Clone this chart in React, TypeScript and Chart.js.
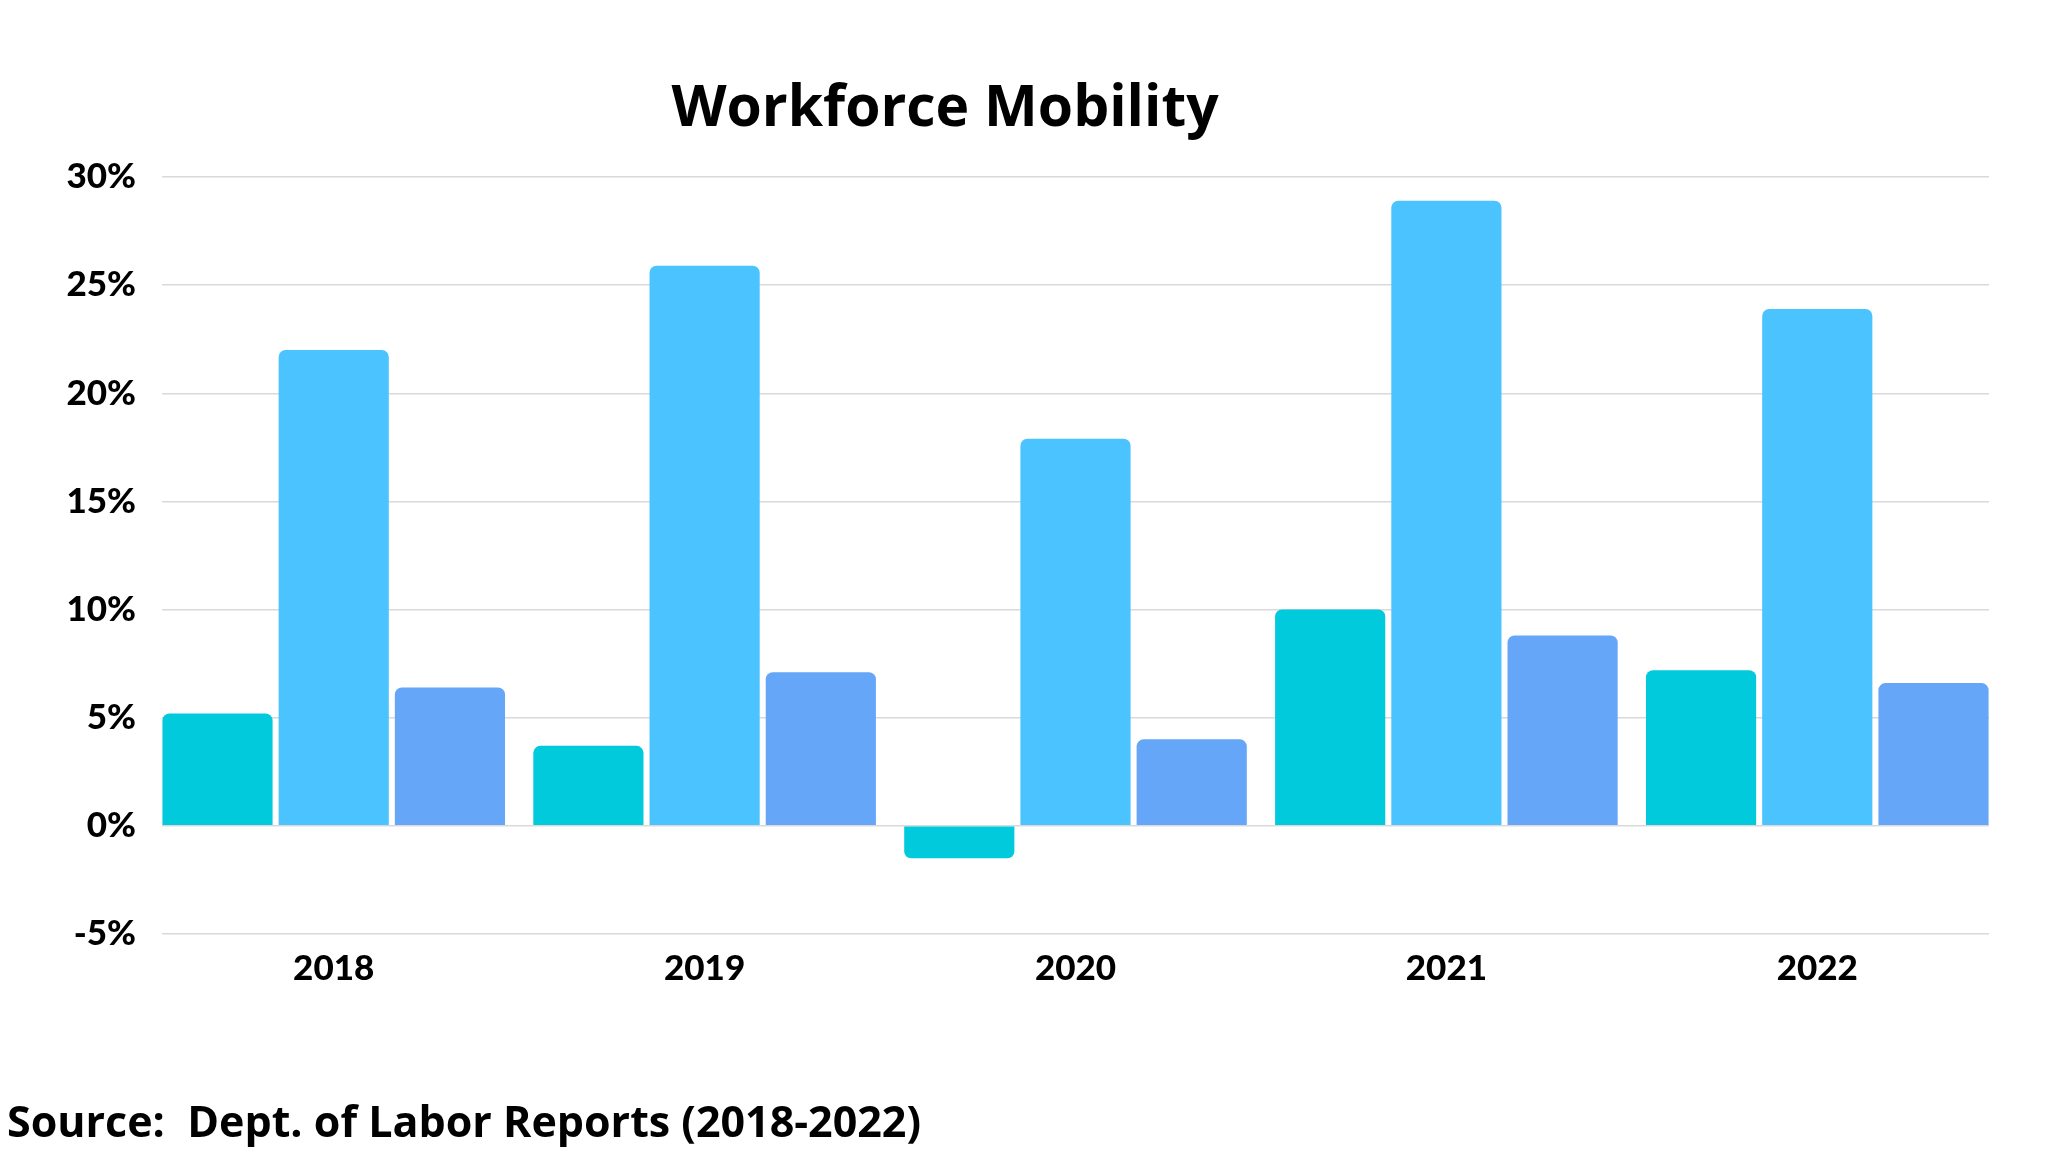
import React, { useEffect, useRef } from "react";
import { Chart, registerables } from "chart.js";

Chart.register(...registerables);

const TITLE = "Workforce Mobility";
const SOURCE = "Source:  Dept. of Labor Reports (2018-2022)";

const categories = ["2018", "2019", "2020", "2021", "2022"];
const seriesNames = ["Series 1", "Series 2", "Series 3"];
const seriesTeal = [5.2, 3.7, -1.5, 10.0, 7.2];
const seriesSky = [22.0, 25.9, 17.9, 28.9, 23.9];
const seriesBlue = [6.4, 7.1, 4.0, 8.8, 6.6];
const yTickValues = [-5, 0, 5, 10, 15, 20, 25, 30];

const colors = ["#00CADB", "#4AC3FF", "#66A6F9"];

const textPlugin = {
  id: "textPlugin",
  afterDraw(chart: any) {
    const ctx = chart.ctx;
    ctx.save();
    ctx.fillStyle = "#000000";
    ctx.textBaseline = "alphabetic";
    ctx.font = '700 57px "Open Sans"';
    ctx.textAlign = "center";
    ctx.fillText(TITLE, 945, 126);
    ctx.font = '700 43px "Open Sans"';
    ctx.textAlign = "left";
    ctx.fillText(SOURCE, 7, 1137);
    ctx.restore();
  },
};

export default function App() {
  const ref = useRef<HTMLCanvasElement | null>(null);
  useEffect(() => {
    let chart: Chart | null = null;
    let cancelled = false;
    const make = () => {
      if (cancelled || !ref.current) return;
      const mk = (vals: number[]) => vals.map((v, i) => ({ x: i, y: v }));
      chart = new Chart(ref.current, {
        type: "bar",
        data: {
          datasets: [seriesTeal, seriesSky, seriesBlue].map((vals, k) => ({
            label: seriesNames[k],
            data: mk(vals),
            backgroundColor: colors[k],
            borderRadius: 7,
            borderSkipped: "start",
            categoryPercentage: 0.94,
            barPercentage: 0.948,
          })),
        } as any,
        options: {
          responsive: false,
          animation: false,
          layout: { padding: { top: 177, right: 59, bottom: 158, left: 0 } },
          plugins: {
            legend: { display: false },
            tooltip: { enabled: false },
            title: { display: false },
          },
          scales: {
            x: {
              type: "linear",
              offset: false,
              min: -0.463,
              max: categories.length - 1 + 0.463,
              grid: { display: false, offset: false },
              border: { display: false },
              afterBuildTicks: (s: any) => {
                s.ticks = categories.map((_, i) => ({ value: i }));
              },
              afterFit: (s: any) => {
                s.height = 60;
              },
              ticks: {
                autoSkip: false,
                maxRotation: 0,
                padding: 6,
                color: "#000000",
                font: { family: "Lato", weight: "900", size: 35 },
                callback: (v: any) => categories[v] ?? "",
              },
            },
            y: {
              min: -5,
              max: 30,
              afterBuildTicks: (s: any) => {
                s.ticks = yTickValues.map((v) => ({ value: v }));
              },
              afterFit: (s: any) => {
                s.width = 162;
              },
              grid: { color: "#d9d9d9", lineWidth: 1.5, drawTicks: false },
              border: { display: false },
              ticks: {
                padding: 26,
                color: "#000000",
                font: { family: "Lato", weight: "900", size: 35 },
                callback: (v: any) => v + "%",
              },
            },
          },
        } as any,
        plugins: [textPlugin],
      });
    };
    const f = (document as any).fonts;
    if (f && f.load) {
      Promise.all([
        f.load('700 57px "Open Sans"'),
        f.load('900 35px "Lato"'),
      ]).then(make, make);
    } else make();
    return () => {
      cancelled = true;
      if (chart) chart.destroy();
    };
  }, []);
  return (
    <div style={{ position: "absolute", left: 0, top: 0, width: 2048, height: 1152, background: "#fff" }}>
      <canvas ref={ref} width={2048} height={1152} style={{ display: "block" }} />
    </div>
  );
}
